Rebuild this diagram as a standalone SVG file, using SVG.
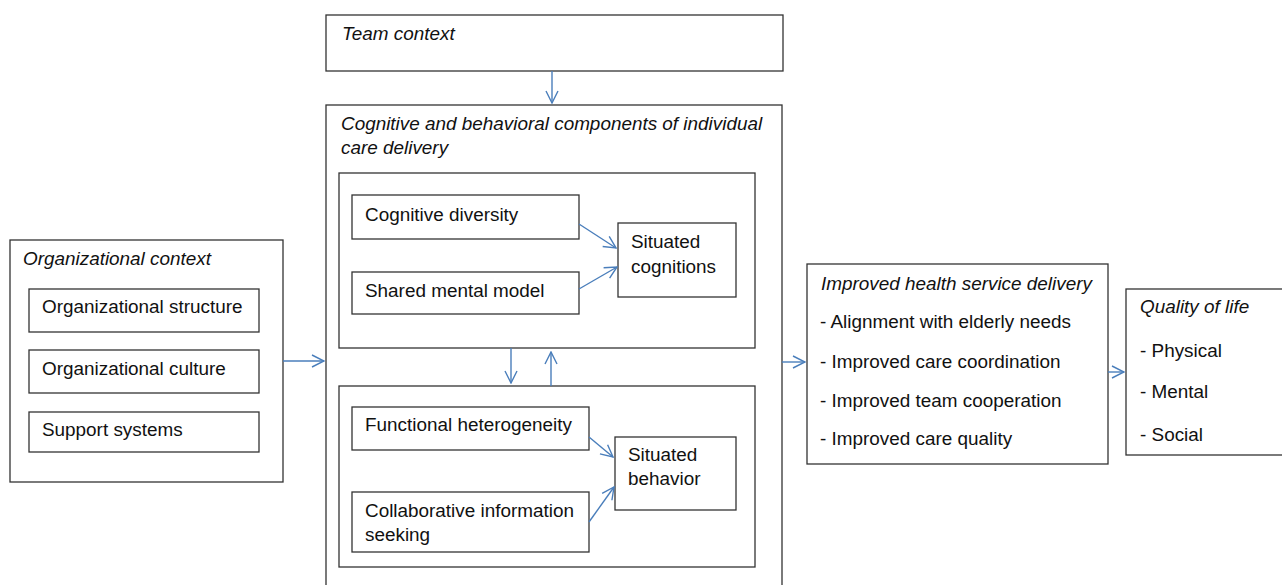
<svg xmlns="http://www.w3.org/2000/svg" width="1282" height="585" viewBox="0 0 1282 585">
<style>
.box{fill:#fff;stroke:#333;stroke-width:1.3}
.t{font-family:"Liberation Sans",Arial,sans-serif;font-size:18.9px;fill:#111}
.i{font-style:italic}
.c{fill:none;stroke:#4a7ebb;stroke-width:1.4;marker-end:url(#ah)}
</style>
<defs>
<marker id="ah" viewBox="0 0 14 14" refX="13" refY="7" markerWidth="14" markerHeight="14" markerUnits="userSpaceOnUse" orient="auto">
<path d="M1,1 L13,7 L1,13" fill="none" stroke="#4a7ebb" stroke-width="1.4"/>
</marker>
</defs>
<rect width="1282" height="585" fill="#fff"/>
<g id="team">
<rect class="box" x="326" y="15" width="457" height="56"/>
<text class="t i" x="342" y="40">Team context</text>
</g>
<g id="main">
<rect class="box" x="326" y="105" width="456" height="490"/>
<text class="t i" x="341" y="130">Cognitive and behavioral components of individual</text>
<text class="t i" x="341" y="154">care delivery</text>
</g>
<g id="upper">
<rect class="box" x="339" y="173" width="416" height="175"/>
</g>
<g id="cogdiv">
<rect class="box" x="352" y="195" width="227" height="44"/>
<text class="t" x="365" y="221">Cognitive diversity</text>
</g>
<g id="shared">
<rect class="box" x="352" y="272" width="227" height="42"/>
<text class="t" x="365" y="297">Shared mental model</text>
</g>
<g id="sitcog">
<rect class="box" x="618" y="223" width="118" height="74"/>
<text class="t" x="631" y="248">Situated</text>
<text class="t" x="631" y="273">cognitions</text>
</g>
<g id="lower">
<rect class="box" x="339" y="386" width="416" height="181"/>
</g>
<g id="funchet">
<rect class="box" x="352" y="407" width="237" height="43"/>
<text class="t" x="365" y="431">Functional heterogeneity</text>
</g>
<g id="collab">
<rect class="box" x="352" y="492" width="237" height="60"/>
<text class="t" x="365" y="517">Collaborative information</text>
<text class="t" x="365" y="541">seeking</text>
</g>
<g id="sitbeh">
<rect class="box" x="615" y="437" width="121" height="73"/>
<text class="t" x="628" y="461">Situated</text>
<text class="t" x="628" y="485">behavior</text>
</g>
<g id="org">
<rect class="box" x="10" y="240" width="273" height="242"/>
<text class="t i" x="23" y="265">Organizational context</text>
<rect class="box" x="29" y="289" width="230" height="43"/>
<text class="t" x="42" y="313">Organizational structure</text>
<rect class="box" x="29" y="350" width="230" height="43"/>
<text class="t" x="42" y="375">Organizational culture</text>
<rect class="box" x="29" y="412" width="230" height="40"/>
<text class="t" x="42" y="436">Support systems</text>
</g>
<g id="health">
<rect class="box" x="807" y="264" width="301" height="200"/>
<text class="t i" x="821" y="290">Improved health service delivery</text>
<text class="t" x="820" y="328">- Alignment with elderly needs</text>
<text class="t" x="820" y="368">- Improved care coordination</text>
<text class="t" x="820" y="407">- Improved team cooperation</text>
<text class="t" x="820" y="445">- Improved care quality</text>
</g>
<g id="qol">
<rect class="box" x="1126" y="289" width="170" height="166"/>
<text class="t i" x="1140" y="313">Quality of life</text>
<text class="t" x="1140" y="357">- Physical</text>
<text class="t" x="1140" y="398">- Mental</text>
<text class="t" x="1140" y="441">- Social</text>
</g>
<g id="connectors">
<path class="c" d="M552,71 L552,103"/>
<path class="c" d="M283,361 L324,361"/>
<path class="c" d="M579,224 L616,248"/>
<path class="c" d="M579,289 L617,267"/>
<path class="c" d="M511,348 L511,383"/>
<path class="c" d="M551,386 L551,352"/>
<path class="c" d="M589,437 L613,457"/>
<path class="c" d="M589,522 L614,487"/>
<path class="c" d="M782,362 L805,362"/>
<path class="c" d="M1108,372 L1124,372"/>
</g>
</svg>
